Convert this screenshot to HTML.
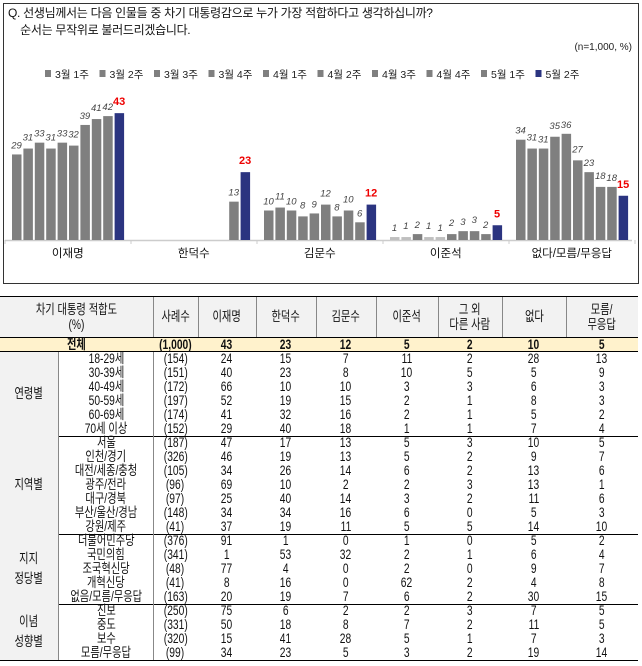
<!DOCTYPE html>
<html><head><meta charset="utf-8">
<style>
body{margin:0;width:642px;height:666px;background:#fff;font-family:"Liberation Sans","Noto Sans CJK KR",sans-serif;position:relative;overflow:hidden}
</style></head><body>
<div style="position:absolute;left:3px;top:3px;width:634px;height:279px;border:1px solid #333"></div>
<div style="position:absolute;left:8px;top:5px;font-size:12px;line-height:17px;color:#111;letter-spacing:-0.3px">Q. 선생님께서는 다음 인물들 중 차기 대통령감으로 누가 가장 적합하다고 생각하십니까?<br>&nbsp;&nbsp;&nbsp;&nbsp;순서는 무작위로 불러드리겠습니다.</div>
<div style="position:absolute;right:10px;top:42px;font-size:10px;color:#222">(n=1,000, %)</div>
<svg id="chart" width="642" height="290" style="position:absolute;left:0;top:0"></svg>
<div id="tbl"></div>
<script>
const weeks=["3월 1주","3월 2주","3월 3주","3월 4주","4월 1주","4월 2주","4월 3주","4월 4주","5월 1주","5월 2주"];
const candidates=["이재명","한덕수","김문수","이준석","없다/모름/무응답"];
const sLee=[29,31,33,31,33,32,39,41,42,43];
const sHan=[null,null,null,null,null,null,null,null,13,23];
const sKim=[10,11,10,8,9,12,8,10,6,12];
const sLjs=[1,1,2,1,1,2,3,3,2,5];
const sNone=[34,31,31,35,36,27,23,18,18,15];
const series=[sLee,sHan,sKim,sLjs,sNone];
const NS="http://www.w3.org/2000/svg";
const svg=document.getElementById('chart');
const base=240, k=2.95;
function y(v){return base-v*k;}
function gx(g,i){return 12+126*g+i*11.4;}
function mk(t,a){const e=document.createElementNS(NS,t);for(const n in a)e.setAttribute(n,a[n]);svg.appendChild(e);return e;}
weeks.forEach((w,i)=>{
  const lx=45+i*54.5;
  const r=mk('rect',{x:lx,y:70,width:6,height:7,fill:i==9?'#2b3480':'#7f7f7f'});
  
  
  const t=mk('text',{x:lx+10,y:78,'font-size':'10.5',fill:'#222'});
  t.textContent=w;
  
  
});
const ax=mk('line',{x1:5,x2:632,y1:base+0.5,y2:base+0.5,stroke:'#ccc','stroke-width':1.5});


for(let g=0;g<=5;g++){const tk=mk('line',{x1:5+126*g,x2:5+126*g,y1:base,y2:base+4,stroke:'#ccc'});

}
candidates.forEach((c,g)=>{
  const t=mk('text',{x:gx(g,4.5)+4.5,y:base+17,'font-size':'11.5','text-anchor':'middle',fill:'#111'});
  t.textContent=c;
  
  
  series[g].forEach((v,i)=>{
    if(v===null)return;
    const last=i==9;
    const r=mk('rect',{x:gx(g,i),y:y(v),width:9.5,height:v*k,fill:last?'#2b3480':(v<=1?'#bfbfbf':'#7f7f7f')});
    
    
    const l=mk('text',{x:gx(g,i)+4.5,y:y(v)-6-(i%2)*2,'font-size':last?'11':'9.5','text-anchor':'middle',fill:last?'#e00':'#444','font-style':last?'normal':'italic','font-weight':last?'bold':'normal'});
    l.textContent=v;
    
    
  });
});
const cols=[0,153,198,256,316,376,438,502,566,638];
const heads=["차기 대통령 적합도<br>(%)","사례수","이재명","한덕수","김문수","이준석","그 외<br>다른 사람","없다","모름/<br>무응답"];
const total=["(1,000)","43","23","12","5","2","10","5"];
const groups=[
 ["연령별",[["18-29세","(154)",24,15,7,11,2,28,13],["30-39세","(151)",40,23,8,10,5,5,9],["40-49세","(172)",66,10,10,3,3,6,3],["50-59세","(197)",52,19,15,2,1,8,3],["60-69세","(174)",41,32,16,2,1,5,2],["70세 이상","(152)",29,40,18,1,1,7,4]]],
 ["지역별",[["서울","(187)",47,17,13,5,3,10,5],["인천/경기","(326)",46,19,13,5,2,9,7],["대전/세종/충청","(105)",34,26,14,6,2,13,6],["광주/전라","(96)",69,10,2,2,3,13,1],["대구/경북","(97)",25,40,14,3,2,11,6],["부산/울산/경남","(148)",34,34,16,6,0,5,3],["강원/제주","(41)",37,19,11,5,5,14,10]]],
 ["지지<br>정당별",[["더불어민주당","(376)",91,1,0,1,0,5,2],["국민의힘","(341)",1,53,32,2,1,6,4],["조국혁신당","(48)",77,4,0,2,0,9,7],["개혁신당","(41)",8,16,0,62,2,4,8],["없음/모름/무응답","(163)",20,19,7,6,2,30,15]]],
 ["이념<br>성향별",[["진보","(250)",75,6,2,2,3,7,5],["중도","(331)",50,18,8,7,2,11,5],["보수","(320)",15,41,28,5,1,7,3],["모름/무응답","(99)",34,23,5,3,2,19,14]]]
];
const T=document.getElementById('tbl');
function div(css,html,name){const d=document.createElement('div');d.style.cssText=css;if(html!==undefined)d.innerHTML=html;


T.appendChild(d);return d;}
const nar='display:inline-block;transform:scaleX(0.76);transform-origin:center;white-space:nowrap';
const fs='font-size:13.5px;color:#111';
const top0=296,hh=41,rh=14;
div(`position:absolute;left:0;top:${top0}px;width:638px;height:${hh}px;background:#f2f2f2`,'', 'table-header-bg');
heads.forEach((h,i)=>{div(`position:absolute;left:${cols[i]}px;top:${top0}px;width:${cols[i+1]-cols[i]}px;height:${hh}px;display:flex;align-items:center;justify-content:center;text-align:center;${fs};line-height:15px`,`<span style="${nar}">${h}</span>`,'column-header');
 if(i>0)div(`position:absolute;left:${cols[i]}px;top:${top0}px;width:1px;height:${hh+15}px;background:#888`,'','column-divider');});
let yy=top0+hh;
div(`position:absolute;left:0;top:${top0}px;width:638px;height:1px;background:#000`,'','table-top-border');
div(`position:absolute;left:0;top:${yy}px;width:638px;height:15px;background:#fff2cc;border-top:1px solid #000;border-bottom:1px solid #000;box-sizing:border-box`,'','total-row-bg');
div(`position:absolute;left:0;top:${yy}px;width:153px;font-weight:bold;${fs};line-height:15px;text-align:center`,`<span style="${nar}">전체</span>`,'total-label');
total.forEach((v,i)=>div(`position:absolute;left:${cols[i+1]}px;top:${yy}px;width:${cols[i+2]-cols[i+1]}px;font-weight:bold;${fs};line-height:15px;text-align:center`,`<span style="${nar}">${v}</span>`,'total-value'));
yy+=15;
groups.forEach(([g,rows])=>{
 const h=rows.length*rh;
 div(`position:absolute;left:0;top:${yy}px;width:58px;height:${h}px;background:#f2f2f2;display:flex;align-items:center;justify-content:center;text-align:center;${fs};line-height:20px`,`<span style="${nar}">${g}</span>`,'group-label');
 div(`position:absolute;left:58px;top:${yy}px;width:1px;height:${h}px;background:#888`,'','group-divider');
 div(`position:absolute;left:153px;top:${yy}px;width:1px;height:${h}px;background:#888`,'','label-divider');
 rows.forEach((r,j)=>{
  const ry=yy+j*rh;
  div(`position:absolute;left:59px;top:${ry}px;width:94px;${fs};line-height:14px;text-align:center`,`<span style="${nar}">${r[0]}</span>`,'row-label');
  for(let i=1;i<r.length;i++)div(`position:absolute;left:${cols[i]}px;top:${ry}px;width:${cols[i+1]-cols[i]}px;${fs};line-height:14px;text-align:center`,`<span style="${nar}">${r[i]}</span>`,'cell-value');
 });
 yy+=h;
 div(`position:absolute;left:0;top:${yy}px;width:638px;height:1px;background:#000`,'','group-border');
});
</script>
</body></html>
